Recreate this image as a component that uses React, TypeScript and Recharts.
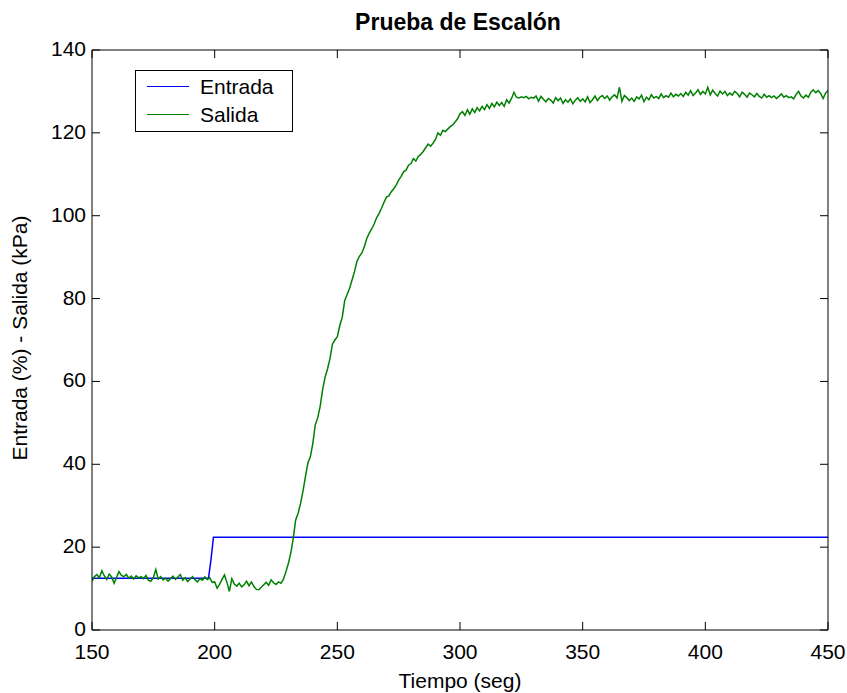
import React, { useLayoutEffect } from "react";
import { LineChart, Line, XAxis, YAxis, Legend } from "recharts";

const xTicks = [150, 200, 250, 300, 350, 400, 450];
const yTicks = [0, 20, 40, 60, 80, 100, 120, 140];

const entradaT = [150, 197.5, 198.5, 199.5, 450];
const entradaV = [12.5, 12.5, 17, 22.4, 22.4];

const salidaStart = 150;
const salidaInicial = [
  11.8, 12.9, 13.4, 12.6, 14.3, 13.1, 12.2, 13.5, 12.8, 11.3,
  12.7, 14.1, 13.2, 12.9, 13.4, 12.5, 13.0, 12.3, 13.1, 12.6,
  12.9, 12.4, 13.2, 12.0, 11.8, 12.6, 14.6, 12.3, 12.9, 12.1,
  12.5, 11.8, 12.4, 13.0, 12.2, 12.8, 13.4, 12.0, 12.6, 11.7,
  12.3, 12.9, 12.1, 11.6, 12.4, 12.0, 12.8, 12.2, 12.6, 11.5,
];
const salidaSubida = [
  11.6, 10.1, 11.0, 12.2, 13.3, 11.5, 9.3, 12.4, 11.1, 10.6,
  11.3, 10.4, 10.9, 11.8, 10.7, 11.6, 10.5, 9.8, 9.7, 10.3,
  10.9, 11.5, 10.8, 12.1, 11.4, 11.0, 11.6, 11.3, 12.2, 14.0,
  16.0, 18.5, 22.0, 26.5, 28.2, 30.5, 33.5, 37.0, 40.3, 41.8,
  45.0, 49.5, 51.2, 54.0, 58.0, 61.0, 63.0, 65.5, 69.0, 70.0,
  70.8, 73.5, 75.5, 79.5, 81.0, 82.5, 84.5, 86.5, 89.0, 90.2,
  91.0, 92.5, 94.5, 95.8, 96.8, 98.0, 99.5, 100.5, 101.8, 103.2,
  104.5, 104.8, 105.8, 106.5, 107.4, 108.6, 109.5, 110.6, 111.0, 112.2,
  112.6, 113.8, 113.2, 114.3, 114.8, 115.5, 116.4, 117.3, 116.8, 117.5,
  118.4, 120.0, 119.4, 120.6, 120.3, 120.9, 121.5, 121.9, 122.6, 123.4,
];
const salidaFinal = [
  124.6, 125.1, 124.2, 125.6, 124.5, 125.8, 124.9, 126.1, 125.3, 126.4,
  125.6, 126.8, 125.9, 127.1, 126.3, 127.4, 126.6, 127.3, 126.4, 128.0,
  127.2, 128.3, 129.8, 128.6, 128.4, 128.7, 128.5, 128.8, 128.2, 128.6,
  128.4, 128.9, 127.6, 128.8, 128.1, 127.5, 128.3, 127.9, 127.2, 128.5,
  127.8, 128.4, 127.1, 128.0, 127.4, 128.2, 127.0, 127.9, 128.5, 127.6,
  128.2, 127.5, 128.7, 127.3, 128.0, 128.9, 127.8, 128.6, 129.0, 128.3,
  128.9, 127.9, 128.7, 129.2, 128.4, 131.0, 127.6, 129.0, 128.5, 127.8,
  128.4, 127.6, 128.7, 128.2, 129.1, 127.5, 128.6, 128.0, 129.2, 128.4,
  128.8, 128.3, 129.4, 128.5, 129.0, 128.6, 129.6, 128.7, 129.3, 128.9,
  129.5, 128.8, 129.8, 129.1, 130.2, 129.0, 129.6, 130.4, 129.3, 130.0,
  129.4, 131.0, 129.2, 130.3, 129.5, 128.9, 130.1, 129.4, 130.0, 129.0,
  129.6, 129.1, 130.0, 129.5, 128.7, 129.8, 129.3, 128.6, 129.6, 129.2,
  128.7, 129.5, 128.8, 128.4, 129.3, 128.6, 129.0, 128.5, 128.9, 128.3,
  128.8, 129.4, 128.6, 129.0, 128.5, 128.7, 128.2, 129.3, 130.0, 128.9,
  128.4, 129.1, 128.6, 129.8, 130.4, 129.7, 130.2, 129.5, 128.3, 129.6,
  130.2,
];

const salidaV = [...salidaInicial, ...salidaSubida, ...salidaFinal];
const entradaData = entradaT.map((t, i) => ({ t, v: entradaV[i] }));
const salidaData = salidaV.map((v, i) => ({ t: salidaStart + i, v }));

const FONT = "'Liberation Sans', Arial, Helvetica, sans-serif";
const FS = 21;
const TL = 8;

if (typeof document !== "undefined") {
  document.body.style.margin = "0";
}

const BottomTick = (p: any) => (
  <g>
    <line x1={p.x} y1={p.y} x2={p.x} y2={p.y - TL} stroke="#000" />
    <text x={p.x} y={p.y + 29} textAnchor="middle" fontSize={FS} fontFamily={FONT} fill="#000">
      {p.payload.value}
    </text>
  </g>
);
const TopTick = (p: any) => (
  <line x1={p.x} y1={p.y} x2={p.x} y2={p.y + TL} stroke="#000" />
);
const LeftTick = (p: any) => (
  <g>
    <line x1={p.x} y1={p.y} x2={p.x + TL} y2={p.y} stroke="#000" />
    <text x={p.x - 6} y={p.y + 6} textAnchor="end" fontSize={FS} fontFamily={FONT} fill="#000">
      {p.payload.value}
    </text>
  </g>
);
const RightTick = (p: any) => (
  <line x1={p.x} y1={p.y} x2={p.x - TL} y2={p.y} stroke="#000" />
);

const LegendBox = (props: any) => {
  const items = props.payload || [];
  return (
    <div
      style={{
        width: 158,
        height: 62,
        boxSizing: "border-box",
        border: "1px solid #000",
        background: "#fff",
        position: "relative",
        fontFamily: FONT,
        fontSize: FS,
      }}
    >
      {items.map((it: any, i: number) => (
        <div key={i} style={{ position: "absolute", left: 0, top: 3 + i * 28, height: 26, width: 156 }}>
          <div
            style={{
              position: "absolute",
              left: 11,
              top: 12,
              width: 42,
              height: 0,
              borderTop: `1.5px solid ${it.color}`,
            }}
          />
          <span style={{ position: "absolute", left: 64, top: 0, lineHeight: "26px", color: "#000" }}>
            {it.value}
          </span>
        </div>
      ))}
    </div>
  );
};

export default function App() {
  useLayoutEffect(() => {
    document.body.style.margin = "0";
  }, []);
  return (
    <div style={{ width: 847, height: 693, position: "relative", overflow: "hidden" }}>
      <LineChart
        width={847}
        height={693}
        margin={{ top: 49, right: 18, bottom: 62, left: 91 }}
        style={{ fontFamily: FONT }}
      >
        <XAxis
          dataKey="t"
          type="number"
          domain={[150, 450]}
          ticks={xTicks}
          allowDataOverflow
          height={1}
          tickSize={0}
          tickMargin={0}
          tick={<BottomTick />}
          tickLine={false}
          axisLine={{ stroke: "#000", strokeWidth: 1 }}
          label={{
            content: (lp: any) => {
              const vb = lp.viewBox || {};
              return (
                <text
                  x={vb.x + vb.width / 2}
                  y={vb.y + 58}
                  textAnchor="middle"
                  fontSize={FS}
                  fontFamily={FONT}
                  fill="#000"
                >
                  Tiempo (seg)
                </text>
              );
            },
          }}
        />
        <XAxis
          xAxisId="top"
          dataKey="t"
          type="number"
          orientation="top"
          domain={[150, 450]}
          ticks={xTicks}
          allowDataOverflow
          height={1}
          tickSize={0}
          tickMargin={0}
          tick={<TopTick />}
          tickLine={false}
          axisLine={{ stroke: "#000", strokeWidth: 1 }}
          label={{
            content: (lp: any) => {
              const vb = lp.viewBox || {};
              return (
                <text
                  x={vb.x + vb.width / 2 - 2}
                  y={vb.y - 19}
                  textAnchor="middle"
                  fontSize={23}
                  fontWeight="bold"
                  fontFamily={FONT}
                  fill="#000"
                >
                  Prueba de Escalón
                </text>
              );
            },
          }}
        />
        <YAxis
          type="number"
          domain={[0, 140]}
          ticks={yTicks}
          allowDataOverflow
          width={1}
          tickSize={0}
          tickMargin={0}
          tick={<LeftTick />}
          tickLine={false}
          axisLine={{ stroke: "#000", strokeWidth: 1 }}
          label={{
            content: (lp: any) => {
              const vb = lp.viewBox || {};
              const cx = vb.x - 71;
              const cy = vb.y + vb.height / 2 - 2;
              return (
                <text
                  x={cx}
                  y={cy}
                  dy="0.35em"
                  transform={`rotate(-90, ${cx}, ${cy})`}
                  textAnchor="middle"
                  fontSize={FS}
                  fontFamily={FONT}
                  fill="#000"
                >
                  Entrada (%) - Salida (kPa)
                </text>
              );
            },
          }}
        />
        <YAxis
          yAxisId="right"
          orientation="right"
          type="number"
          domain={[0, 140]}
          ticks={yTicks}
          allowDataOverflow
          width={1}
          tickSize={0}
          tickMargin={0}
          tick={<RightTick />}
          tickLine={false}
          axisLine={{ stroke: "#000", strokeWidth: 1 }}
        />
        <Legend
          layout="horizontal"
          verticalAlign="middle"
          align="center"
          content={<LegendBox />}
          wrapperStyle={{ left: 135, top: 70, width: 158, height: 62 }}
        />
        <Line
          data={entradaData}
          dataKey="v"
          name="Entrada"
          stroke="#0000ff"
          strokeWidth={1.5}
          dot={false}
          isAnimationActive={false}
          type="linear"
        />
        <Line
          data={salidaData}
          dataKey="v"
          name="Salida"
          stroke="#008000"
          strokeWidth={1.5}
          dot={false}
          isAnimationActive={false}
          type="linear"
        />
      </LineChart>
    </div>
  );
}
